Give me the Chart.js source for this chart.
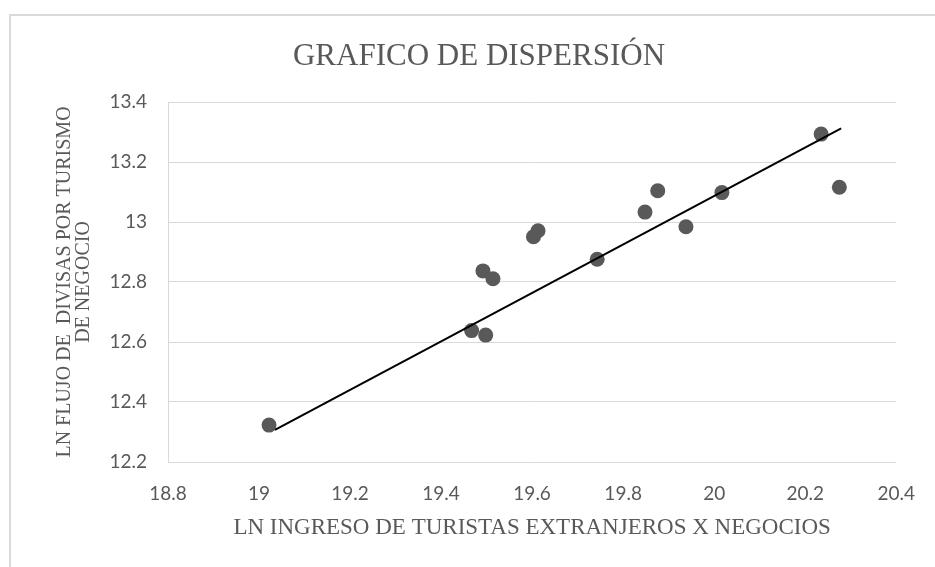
<!DOCTYPE html>
<html>
<head>
<meta charset="utf-8">
<script src="https://cdn.jsdelivr.net/npm/chart.js@4.4.1/dist/chart.umd.min.js"></script>
<style>
  body { margin: 0; background: #fff; }
  #frame {
    position: absolute; left: 9px; top: 14px; width: 1000px; height: 1000px;
    border-left: 2px solid #d9d9d9; border-top: 2px solid #d9d9d9;
  }
  #chart { position: absolute; left: 0; top: 0; }
</style>
</head>
<body>
<div id="frame"></div>
<canvas id="chart" width="935" height="567"></canvas>
<script>
// LN ingreso de turistas (x) vs LN flujo de divisas (y)
const xValues = [19.022, 19.467, 19.498, 19.492, 19.514, 19.603, 19.613, 19.743, 19.848, 19.876, 19.938, 20.017, 20.235, 20.275];
const yValues = [12.323, 12.638, 12.623, 12.837, 12.811, 12.951, 12.971, 12.876, 13.033, 13.104, 12.984, 13.098, 13.293, 13.116];

// linea de tendencia (extremos)
const trendX = [19.035, 20.279];
const trendY = [12.307, 13.312];

const xTickValues = [18.8, 19, 19.2, 19.4, 19.6, 19.8, 20, 20.2, 20.4];
const xTickLabels = ["18.8", "19", "19.2", "19.4", "19.6", "19.8", "20", "20.2", "20.4"];
const yTickValues = [12.2, 12.4, 12.6, 12.8, 13, 13.2, 13.4];
const yTickLabels = ["12.2", "12.4", "12.6", "12.8", "13", "13.2", "13.4"];

const textColor = "#595959";
const gridColor = "#d9d9d9";

const titlePlugin = {
  id: "tituloExcel",
  afterDraw(chart) {
    const ctx = chart.ctx;
    ctx.save();
    ctx.font = "31px 'Liberation Serif', 'Times New Roman', serif";
    ctx.fillStyle = textColor;
    ctx.textAlign = "center";
    ctx.textBaseline = "alphabetic";
    ctx.fillText("GRAFICO DE DISPERSIÓN", 479, 65);
    ctx.restore();
  },
};

const ctx = document.getElementById("chart").getContext("2d");
new Chart(ctx, {
  type: "scatter",
  data: {
    datasets: [
      {
        label: "datos",
        data: xValues.map((x, i) => ({ x: x, y: yValues[i] })),
        backgroundColor: "#595959",
        borderWidth: 0,
        pointRadius: 7.5,
        order: 2,
      },
      {
        label: "tendencia",
        data: trendX.map((x, i) => ({ x: x, y: trendY[i] })),
        showLine: true,
        borderColor: "#000000",
        borderWidth: 2,
        pointRadius: 0,
        order: 1,
      },
    ],
  },
  options: {
    responsive: false,
    animation: false,
    devicePixelRatio: 1,
    layout: { padding: { top: 102, right: 38, bottom: 25, left: 0 } },
    plugins: {
      legend: { display: false },
      tooltip: { enabled: false },
    },
    scales: {
      x: {
        type: "linear",
        min: 18.8,
        max: 20.4,
        afterFit: (scale) => { scale.height = 80; },
        afterBuildTicks: (scale) => { scale.ticks = xTickValues.map((v) => ({ value: v })); },
        grid: { display: false, drawTicks: false },
        border: { display: false },
        ticks: {
          color: textColor,
          font: { family: "Lato", size: 19 },
          padding: 20,
          maxRotation: 0,
          autoSkip: false,
          callback: (v, i) => xTickLabels[i],
        },
        title: {
          display: true,
          text: "LN INGRESO DE TURISTAS EXTRANJEROS X NEGOCIOS",
          color: textColor,
          font: { family: "'Liberation Serif', serif", size: 23, lineHeight: 1.2 },
          padding: { top: 0, bottom: 0 },
        },
      },
      y: {
        type: "linear",
        min: 12.2,
        max: 13.4,
        afterFit: (scale) => { scale.width = 168; },
        afterBuildTicks: (scale) => { scale.ticks = yTickValues.map((v) => ({ value: v })); },
        grid: { color: gridColor, lineWidth: 1, drawTicks: false },
        border: { display: true, color: gridColor, width: 1 },
        ticks: {
          color: textColor,
          font: { family: "Lato", size: 19 },
          padding: 21,
          callback: (v, i) => yTickLabels[i],
        },
        title: {
          display: true,
          text: ["LN FLUJO DE  DIVISAS POR TURISMO", "DE NEGOCIO"],
          color: textColor,
          font: { family: "'Liberation Serif', serif", size: 20, lineHeight: 0.95 },
          padding: { top: 55, bottom: 0 },
        },
      },
    },
  },
  plugins: [titlePlugin],
});
</script>
</body>
</html>
